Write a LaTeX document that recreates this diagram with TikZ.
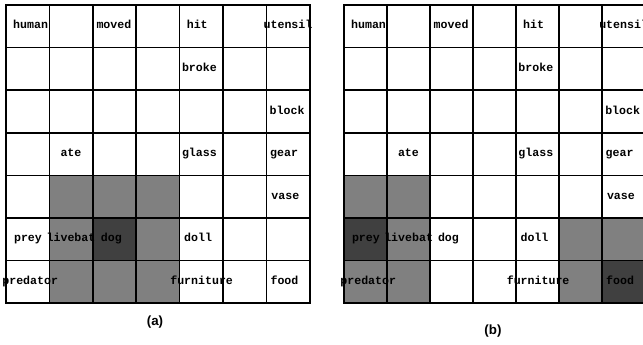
\documentclass[tikz,border=0pt]{standalone}
\usepackage{fontspec}
\setsansfont{Liberation Sans}
\newfontfamily\cellfont{Liberation Mono}
\usetikzlibrary{positioning}
\definecolor{ink}{RGB}{0,0,0}
\definecolor{dotfill}{gray}{0.5}
\definecolor{densefill}{gray}{0.25}
\tikzset{
  cellline/.style={line width=1.3pt,draw=ink},
  frame/.style={line width=1.8pt,draw=ink},
  light/.style={fill=dotfill},
  dense/.style={fill=densefill},
  word/.style={anchor=west,inner sep=0pt,text height=5.5pt,text depth=1.5pt,font=\cellfont\bfseries\fontsize{8.7}{9}\selectfont},
  panel/.style={inner sep=1pt,font=\sffamily\bfseries\fontsize{10}{12}\selectfont}
}
\newcommand\maplabels[1]{%
  \foreach \w/\c/\r in {human/0.16/0,moved/2.08/0,hit/4.16/0,utensil/5.93/0,
    broke/4.05/1,block/6.07/2,ate/1.25/3,glass/4.05/3,gear/6.08/3,vase/6.11/4,
    prey/0.18/5,livebat/0.93/5,dog/2.18/5,doll/4.1/5,
    predator/-0.09/6,furniture/3.78/6,food/6.09/6}
    \node[word] (#1-\w) at (\c,\r+0.5) {\w};}
\newcommand\mapgrid{%
  \foreach \i in {1,...,6} {
    \draw[cellline] (\i,0) -- (\i,7);
    \draw[cellline] (0,\i) -- (7,\i);
  }
  \draw[frame] (0,0) rectangle (7,7);}

\begin{document}
\begin{tikzpicture}[x=0.75pt,y=-0.75pt]
  \useasboundingbox (0,0) rectangle (643,344);
  % map (a)
  \begin{scope}[shift={(6,5)},x=32.55pt,y=-31.95pt]
    \fill[light] (1,4) rectangle (4,7);
    \fill[dense] (2,5) rectangle (3,6);
    \mapgrid
    \maplabels{a}
  \end{scope}
  % map (b)
  \begin{scope}[shift={(344,5)},x=32.25pt,y=-31.95pt]
    \fill[light] (0,4) rectangle (2,7);
    \fill[dense] (0,5) rectangle (1,6);
    \fill[light] (5,5) rectangle (7,7);
    \fill[dense] (6,6) rectangle (7,7);
    \mapgrid
    \maplabels{b}
  \end{scope}
  \node[panel] (cap-a) at (155,322) {(a)};
  \node[panel] (cap-b) at (493,331) {(b)};
\end{tikzpicture}
\end{document}
